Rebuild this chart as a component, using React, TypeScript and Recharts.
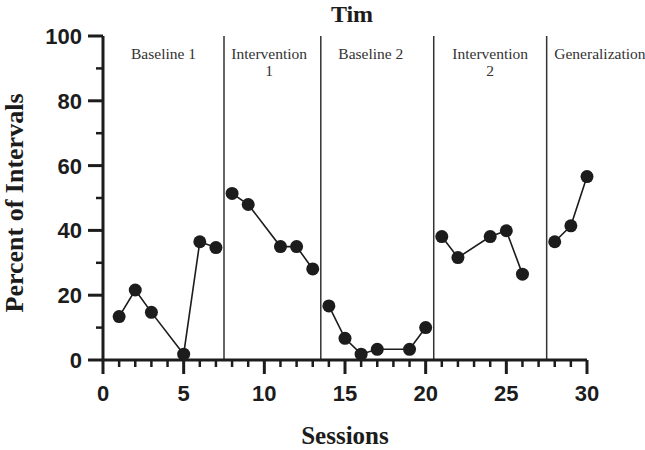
import React from 'react';
import { LineChart, Line, XAxis, YAxis, ReferenceLine } from 'recharts';

// Sessions and percent of intervals per phase
const baseline1Sessions = [1, 2, 3, 5, 6, 7];
const baseline1Values = [13.4, 21.6, 14.7, 1.8, 36.5, 34.7];
const intervention1Sessions = [8, 9, 11, 12, 13];
const intervention1Values = [51.4, 48.0, 35.0, 35.0, 28.1];
const baseline2Sessions = [14, 15, 16, 17, 19, 20];
const baseline2Values = [16.7, 6.7, 1.8, 3.3, 3.3, 10.0];
const intervention2Sessions = [21, 22, 24, 25, 26];
const intervention2Values = [38.1, 31.6, 38.1, 39.9, 26.5];
const generalizationSessions = [28, 29, 30];
const generalizationValues = [36.5, 41.4, 56.6];

const phaseChanges = [7.5, 13.5, 20.5, 27.5];
const phaseLabels = [['Baseline 1'], ['Intervention', '1'], ['Baseline 2'], ['Intervention', '2'], ['Generalization']];
const phaseLabelCenters = [3.75, 10.3, 16.6, 24.0, 30.8];

const xTicks = Array.from({ length: 31 }, (_, i) => i);
const yTicks = [0, 10, 20, 30, 40, 50, 60, 70, 80, 90, 100];

const INK = '#1c1c1c';
const SANS = '"Liberation Sans", Arial, sans-serif';
const SERIF = '"Liberation Serif", "Times New Roman", serif';

const toPoints = (sessions: number[], values: number[]) =>
  sessions.map((s, i) => ({ session: s, value: values[i] }));

const series = [
  toPoints(baseline1Sessions, baseline1Values),
  toPoints(intervention1Sessions, intervention1Values),
  toPoints(baseline2Sessions, baseline2Values),
  toPoints(intervention2Sessions, intervention2Values),
  toPoints(generalizationSessions, generalizationValues),
];

function XTick({ x, y, payload }: any) {
  const major = payload.value % 5 === 0;
  return (
    <g>
      <line x1={x} y1={y} x2={x} y2={y + (major ? 14 : 7)} stroke={INK} strokeWidth={major ? 3 : 2.5} />
      {major && (
        <text x={x} y={y + 41} textAnchor="middle" fontFamily={SANS} fontWeight="bold" fontSize={22} fill={INK}>
          {payload.value}
        </text>
      )}
    </g>
  );
}

function YTick({ x, y, payload }: any) {
  const major = payload.value % 20 === 0;
  return (
    <g>
      <line x1={x} y1={y} x2={x - (major ? 15 : 7)} y2={y} stroke={INK} strokeWidth={major ? 3 : 2.5} />
      {major && (
        <text x={x - 21} y={y + 8} textAnchor="end" fontFamily={SANS} fontWeight="bold" fontSize={22} fill={INK}>
          {payload.value}
        </text>
      )}
    </g>
  );
}

export default function App() {
  return (
    <div style={{ position: 'absolute', left: 0, top: 0, width: 645, height: 450, background: '#fff' }}>
      <div
        style={{
          position: 'absolute',
          left: 0,
          width: 704,
          top: 0,
          textAlign: 'center',
          fontFamily: SERIF,
          fontWeight: 'bold',
          fontSize: 24,
          lineHeight: '28px',
          color: INK,
        }}
      >
        Tim
      </div>
      <LineChart width={645} height={450} margin={{ top: 36, right: 58, bottom: 0, left: 0 }}>
        <XAxis
          type="number"
          dataKey="session"
          domain={[0, 30]}
          ticks={xTicks}
          interval={0}
          tick={<XTick />}
          tickLine={false}
          tickSize={0}
          tickMargin={0}
          height={90}
          axisLine={{ stroke: INK, strokeWidth: 3 }}
          label={({ viewBox }: any) => (
            <text
              x={viewBox.x + viewBox.width / 2}
              y={viewBox.y + 84}
              textAnchor="middle"
              fontFamily={SERIF}
              fontWeight="bold"
              fontSize={25}
              fill={INK}
            >
              Sessions
            </text>
          )}
        />
        <YAxis
          type="number"
          dataKey="value"
          domain={[0, 100]}
          ticks={yTicks}
          interval={0}
          tick={<YTick />}
          tickLine={false}
          tickSize={0}
          tickMargin={0}
          width={103}
          axisLine={{ stroke: INK, strokeWidth: 3 }}
          label={({ viewBox }: any) => {
            const cy = viewBox.y + viewBox.height / 2 + 5;
            return (
              <text
                x={23}
                y={cy}
                transform={`rotate(-90 23 ${cy})`}
                textAnchor="middle"
                fontFamily={SERIF}
                fontWeight="bold"
                fontSize={26}
                fill={INK}
              >
                Percent of Intervals
              </text>
            );
          }}
        />
        {phaseChanges.map((p) => (
          <ReferenceLine key={p} x={p} stroke="#333" strokeWidth={1.5} />
        ))}
        {phaseLabelCenters.map((c, i) => (
          <ReferenceLine
            key={'lbl' + i}
            x={c}
            stroke="none"
            ifOverflow="visible"
            label={({ viewBox }: any) => (
              <text x={viewBox.x} y={viewBox.y + 23} textAnchor="middle" fontFamily={SERIF} fontSize={15.5} fill="#333">
                {phaseLabels[i].map((t, j) => (
                  <tspan key={j} x={viewBox.x} dy={j === 0 ? 0 : 17}>
                    {t}
                  </tspan>
                ))}
              </text>
            )}
          />
        ))}
        {series.map((data, i) => (
          <Line
            key={i}
            data={data}
            dataKey="value"
            type="linear"
            stroke={INK}
            strokeWidth={1.6}
            dot={{ r: 6.5, fill: INK, stroke: INK, strokeWidth: 0 }}
            activeDot={false}
            isAnimationActive={false}
          />
        ))}
      </LineChart>
    </div>
  );
}
